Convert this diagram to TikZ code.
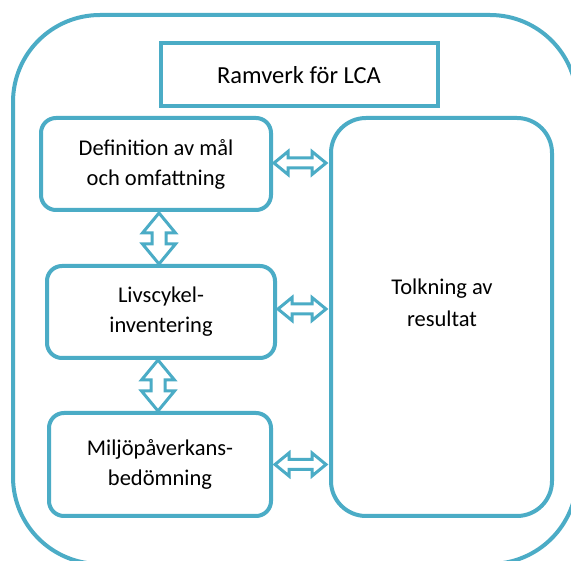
\documentclass[tikz,border=0pt]{standalone}
\usepackage{fontspec}
\setmainfont{Carlito}
\usetikzlibrary{calc}
\definecolor{aqua}{HTML}{4BACC6}
\tikzset{
  box/.style={draw=aqua, line width=4pt, fill=white, rounded corners=15pt, inner sep=0pt, outer sep=0pt, align=center,
    font=\fontsize{22.5}{30}\selectfont},
  txt/.style={align=center, font=\fontsize{22.5}{32}\selectfont, inner sep=0pt},
  arr/.style={draw=aqua, line width=3pt, fill=white, line join=miter},
}
\newcommand\harr[2]{\draw[arr] let \p1=(#1), \p2=(#2) in
  (\x1,\y1) -- (\x1+14pt,\y1+11.5pt) -- (\x1+14pt,\y1+5pt) -- (\x2-14pt,\y1+5pt) -- (\x2-14pt,\y1+11.5pt)
  -- (\x2,\y1) -- (\x2-14pt,\y1-11.5pt) -- (\x2-14pt,\y1-5pt) -- (\x1+14pt,\y1-5pt) -- (\x1+14pt,\y1-11.5pt) -- cycle;}
\newcommand\varr[2]{\draw[arr] let \p1=(#1), \p2=(#2) in
  (\x1,\y1) -- (\x1+16.5pt,\y1-20pt) -- (\x1+7pt,\y1-20pt) -- (\x1+7pt,\y2+20pt) -- (\x1+16.5pt,\y2+20pt)
  -- (\x1,\y2) -- (\x1-16.5pt,\y2+20pt) -- (\x1-7pt,\y2+20pt) -- (\x1-7pt,\y1-20pt) -- (\x1-16.5pt,\y1-20pt) -- cycle;}
\begin{document}
\begin{tikzpicture}[x=1pt,y=-1pt]
\useasboundingbox (0,0) rectangle (571,561);
\fill[white] (0,0) rectangle (571,561);
\begin{scope}
\clip (0,0) rectangle (571,561);
\node[box, rounded corners=87pt, minimum width=564pt, minimum height=549pt] (outer) at (295,289.5) {};
\end{scope}
\node[box, rounded corners=0pt, minimum width=277pt, minimum height=63pt, font=\fontsize{24.5}{30}\selectfont] (ram) at (299,75) {Ramverk för LCA};
\node[box, minimum width=230pt, minimum height=92pt] (def) at (156,164) {Definition av mål\\och omfattning};
\node[box, minimum width=228pt, minimum height=92pt] (liv) at (161,312) {Livscykel-\\inventering};
\node[box, minimum width=222pt, minimum height=103pt] (milj) at (160,464.5) {Miljöpåverkans-\\bedömning};
\node[box, rounded corners=35pt, minimum width=221pt, minimum height=398pt] (tolk) at (441.5,317) {};
\node[txt] (tolkt) at (442,303) {Tolkning av\\resultat};
% horizontal arrows
\coordinate (h1a) at ($(def.east)+(3,-1)$);
\coordinate (h1b) at ($(h1a -| tolk.west)+(-5,0)$);
\harr{h1a}{h1b}
\coordinate (h2a) at ($(liv.east)+(3,-3)$);
\coordinate (h2b) at ($(h2a -| tolk.west)+(-5,0)$);
\harr{h2a}{h2b}
\coordinate (h3a) at ($(milj.east)+(4,0)$);
\coordinate (h3b) at ($(h3a -| tolk.west)+(-5,0)$);
\harr{h3a}{h3b}
% vertical arrows
\coordinate (v1a) at ($(def.south)+(3,3)$);
\coordinate (v1b) at ($(v1a |- liv.north)+(0,-2)$);
\varr{v1a}{v1b}
\coordinate (v2a) at ($(liv.south)+(-3,2)$);
\coordinate (v2b) at ($(v2a |- milj.north)+(0,-2)$);
\varr{v2a}{v2b}
\end{tikzpicture}
\end{document}
